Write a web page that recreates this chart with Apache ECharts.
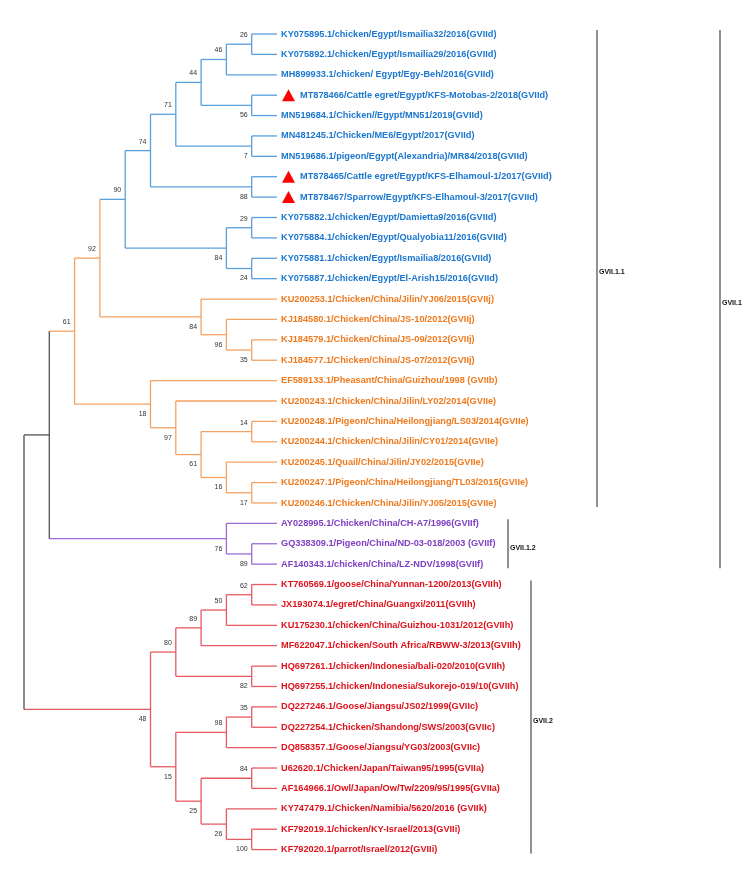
<!DOCTYPE html>
<html><head><meta charset="utf-8">
<script src="https://cdn.jsdelivr.net/npm/echarts@6/dist/echarts.min.js"></script>
<style>html,body{margin:0;padding:0;background:#fff}#c{width:756px;height:875px}</style>
</head><body><div id="c"></div>
<script>
// ---------------- DATA ----------------
const leafNames = [
  "KY075895.1/chicken/Egypt/Ismailia32/2016(GVIId)",
  "KY075892.1/chicken/Egypt/Ismailia29/2016(GVIId)",
  "MH899933.1/chicken/ Egypt/Egy-Beh/2016(GVIId)",
  "MT878466/Cattle egret/Egypt/KFS-Motobas-2/2018(GVIId)",
  "MN519684.1/Chicken//Egypt/MN51/2019(GVIId)",
  "MN481245.1/Chicken/ME6/Egypt/2017(GVIId)",
  "MN519686.1/pigeon/Egypt(Alexandria)/MR84/2018(GVIId)",
  "MT878465/Cattle egret/Egypt/KFS-Elhamoul-1/2017(GVIId)",
  "MT878467/Sparrow/Egypt/KFS-Elhamoul-3/2017(GVIId)",
  "KY075882.1/chicken/Egypt/Damietta9/2016(GVIId)",
  "KY075884.1/chicken/Egypt/Qualyobia11/2016(GVIId)",
  "KY075881.1/chicken/Egypt/Ismailia8/2016(GVIId)",
  "KY075887.1/chicken/Egypt/El-Arish15/2016(GVIId)",
  "KU200253.1/Chicken/China/Jilin/YJ06/2015(GVIIj)",
  "KJ184580.1/Chicken/China/JS-10/2012(GVIIj)",
  "KJ184579.1/Chicken/China/JS-09/2012(GVIIj)",
  "KJ184577.1/Chicken/China/JS-07/2012(GVIIj)",
  "EF589133.1/Pheasant/China/Guizhou/1998 (GVIIb)",
  "KU200243.1/Chicken/China/Jilin/LY02/2014(GVIIe)",
  "KU200248.1/Pigeon/China/Heilongjiang/LS03/2014(GVIIe)",
  "KU200244.1/Chicken/China/Jilin/CY01/2014(GVIIe)",
  "KU200245.1/Quail/China/Jilin/JY02/2015(GVIIe)",
  "KU200247.1/Pigeon/China/Heilongjiang/TL03/2015(GVIIe)",
  "KU200246.1/Chicken/China/Jilin/YJ05/2015(GVIIe)",
  "AY028995.1/Chicken/China/CH-A7/1996(GVIIf)",
  "GQ338309.1/Pigeon/China/ND-03-018/2003 (GVIIf)",
  "AF140343.1/chicken/China/LZ-NDV/1998(GVIIf)",
  "KT760569.1/goose/China/Yunnan-1200/2013(GVIIh)",
  "JX193074.1/egret/China/Guangxi/2011(GVIIh)",
  "KU175230.1/chicken/China/Guizhou-1031/2012(GVIIh)",
  "MF622047.1/chicken/South Africa/RBWW-3/2013(GVIIh)",
  "HQ697261.1/chicken/Indonesia/bali-020/2010(GVIIh)",
  "HQ697255.1/chicken/Indonesia/Sukorejo-019/10(GVIIh)",
  "DQ227246.1/Goose/Jiangsu/JS02/1999(GVIIc)",
  "DQ227254.1/Chicken/Shandong/SWS/2003(GVIIc)",
  "DQ858357.1/Goose/Jiangsu/YG03/2003(GVIIc)",
  "U62620.1/Chicken/Japan/Taiwan95/1995(GVIIa)",
  "AF164966.1/Owl/Japan/Ow/Tw/2209/95/1995(GVIIa)",
  "KY747479.1/Chicken/Namibia/5620/2016 (GVIIk)",
  "KF792019.1/chicken/KY-Israel/2013(GVIIi)",
  "KF792020.1/parrot/Israel/2012(GVIIi)"
];
// clade group of each leaf: 0 = GVIId (blue), 1 = other GVII.1.1 (orange), 2 = GVII.1.2 (purple), 3 = GVII.2 (red)
const leafGroup = [0,0,0,0,0,0,0,0,0,0,0,0,0, 1,1,1,1,1,1,1,1,1,1,1, 2,2,2, 3,3,3,3,3,3,3,3,3,3,3,3,3,3];
const markedLeaves = [3, 7, 8];
// topology (leaf indices) with bootstrap values after each clade
const treeNewick = "((((((((((0,1)26,2)46,(3,4)56)44,(5,6)7)71,(7,8)88)74,((9,10)29,(11,12)24)84)90,(13,(14,(15,16)35)96)84)92,(17,(18,((19,20)14,(21,(22,23)17)16)61)97)18)61,(24,(25,26)89)76),(((((27,28)62,29)50,30)89,(31,32)82)80,(((33,34)35,35)98,((36,37)84,(38,(39,40)100)26)25)15)48);";
const bracketNames = ["GVII.1.1", "GVII.1.2", "GVII.1", "GVII.2"];
const bracketFrom = [0, 24, 0, 27];
const bracketTo = [23, 26, 26, 40];

// ---------------- STYLE ----------------
const textColors = ['#1b77d0', '#f07a1e', '#8040c4', '#e0121c'];
const lineColors = ['#5a9fde', '#f4a262', '#9d6bd4', '#e65a60'];
const grayLine = '#505050';
const bracketX = [597, 508, 720, 531];
const FONT = '"Liberation Sans", Arial, sans-serif';

// ---------------- BUILD TREE ----------------
function parse(s) {
  let i = 0;
  function node() {
    if (s[i] === '(') {
      i++;
      const kids = [node()];
      while (s[i] === ',') { i++; kids.push(node()); }
      i++;
      let num = '';
      while (i < s.length && /\d/.test(s[i])) num += s[i++];
      return { kids, boot: num === '' ? null : +num };
    }
    let num = '';
    while (/\d/.test(s[i])) num += s[i++];
    return { leaf: +num };
  }
  return node();
}
const root = parse(treeNewick);
function layout(n) {
  if (n.kids) {
    n.kids.forEach(layout);
    n.h = 1 + Math.max(...n.kids.map(k => k.h));
    n.y = (n.kids[0].y + n.kids[n.kids.length - 1].y) / 2;
    n.groups = new Set();
    n.kids.forEach(k => k.groups.forEach(g => n.groups.add(g)));
  } else {
    n.h = 0; n.y = n.leaf; n.groups = new Set([leafGroup[n.leaf]]);
  }
}
layout(root);
const H = root.h;
function colorOf(n) {
  if (n.groups.size === 1) return lineColors[[...n.groups][0]];
  if ([...n.groups].every(g => g === 0 || g === 1)) return lineColors[1];
  return grayLine;
}
const segs = [], boots = [], leaves = [];
function walk(n, parent, isUpper) {
  n.x = H - n.h;
  const c = colorOf(n);
  if (parent) segs.push([parent.x, n.y, n.x, n.y, c]);
  if (n.kids) {
    n.kids.forEach((k, idx) => walk(k, n, idx === 0));
    segs.push([n.x, n.kids[0].y, n.x, n.kids[n.kids.length - 1].y, c]);
    if (n.boot !== null && parent) boots.push([n.x, n.y, n.boot, isUpper ? 1 : 0]);
  } else {
    leaves.push([n.x, n.y, n.leaf]);
  }
}
walk(root, null, false);
const brackets = bracketNames.map((nm, i) => [bracketX[i], bracketFrom[i], bracketTo[i], i]);

// ---------------- CHART ----------------
const chart = echarts.init(document.getElementById('c'), null, { renderer: 'canvas' });
chart.setOption({
  animation: false,
  backgroundColor: '#fff',
  grid: { left: 24, right: 479, top: 34, bottom: 25.4 },
  xAxis: { type: 'value', min: 0, max: H, show: false },
  yAxis: { type: 'value', min: 0, max: leafNames.length - 1, inverse: true, show: false },
  series: [
    {
      type: 'custom', clip: false, data: segs.map(s => s.slice(0, 4)),
      renderItem: (params, api) => {
        const a = api.coord([api.value(0), api.value(1)]);
        const b = api.coord([api.value(2), api.value(3)]);
        return { type: 'line', shape: { x1: a[0], y1: a[1], x2: b[0], y2: b[1] },
          style: { stroke: segs[params.dataIndex][4], lineWidth: 1.3 } };
      }
    },
    {
      type: 'custom', clip: false, data: boots,
      renderItem: (params, api) => {
        const p = api.coord([api.value(0), api.value(1)]);
        return { type: 'text', style: { text: String(api.value(2)), x: p[0] - 4,
          y: p[1] + (api.value(3) ? -9 : 10), align: 'right', verticalAlign: 'middle',
          font: '7px ' + FONT, fill: '#333' } };
      }
    },
    {
      type: 'custom', clip: false, data: leaves,
      renderItem: (params, api) => {
        const p = api.coord([api.value(0), api.value(1)]);
        const li = api.value(2);
        const marked = markedLeaves.indexOf(li) >= 0;
        const children = [{ type: 'text', style: { text: leafNames[li], x: p[0] + (marked ? 23 : 4), y: p[1],
          align: 'left', verticalAlign: 'middle', font: 'bold 9.2px ' + FONT, fill: textColors[leafGroup[li]] } }];
        if (marked) children.push({ type: 'polygon', shape: { points: [[p[0] + 5, p[1] + 6], [p[0] + 18, p[1] + 6], [p[0] + 11.5, p[1] - 6]] },
          style: { fill: '#ff0000' } });
        return { type: 'group', children };
      }
    },
    {
      type: 'custom', clip: false, data: brackets,
      renderItem: (params, api) => {
        const x = api.value(0);
        const y1 = api.coord([0, api.value(1)])[1] - 4;
        const y2 = api.coord([0, api.value(2)])[1] + 4;
        return { type: 'group', children: [
          { type: 'line', shape: { x1: x, y1: y1, x2: x, y2: y2 }, style: { stroke: '#555', lineWidth: 1.3 } },
          { type: 'text', style: { text: bracketNames[api.value(3)], x: x + 2, y: (y1 + y2) / 2 + 4,
            align: 'left', verticalAlign: 'middle', font: 'bold 7px ' + FONT, fill: '#111' } }
        ] };
      }
    }
  ]
});
</script></body></html>
